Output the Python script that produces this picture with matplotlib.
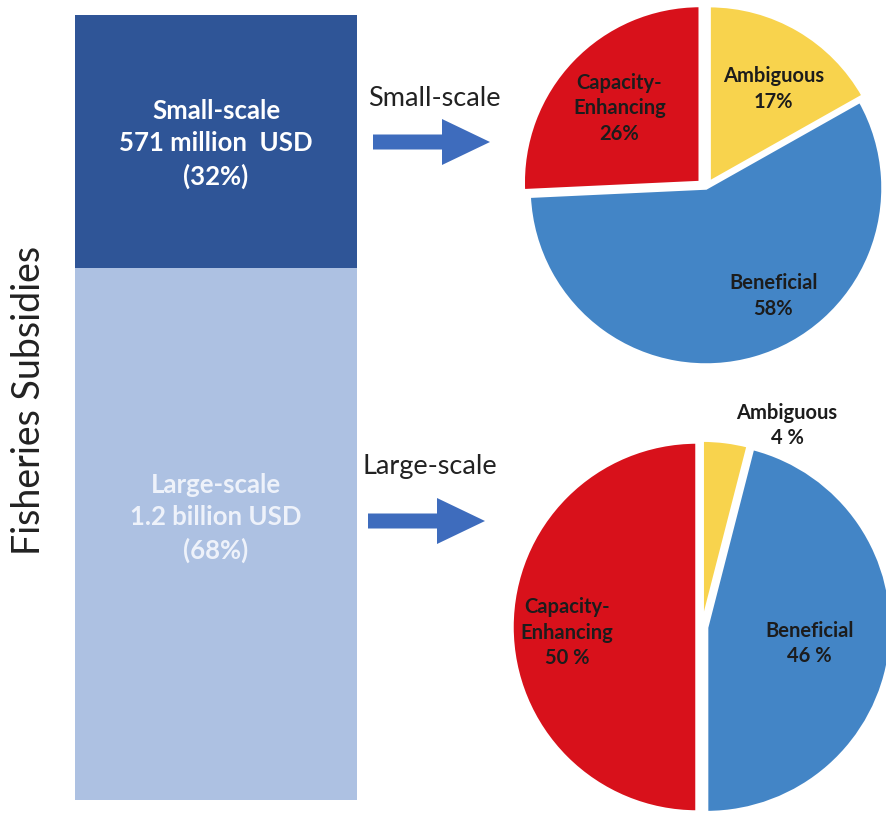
import matplotlib
matplotlib.use("Agg")
import matplotlib.pyplot as plt
from matplotlib.patches import FancyArrow

plt.rcParams['font.family'] = ['Lato', 'DejaVu Sans']

# subsidy totals (million USD)
scale_names = ['Small-scale', 'Large-scale']
scale_amounts = [571, 1200]
scale_text = ['571 million  USD', '1.2 billion USD']
scale_share = [32, 68]

# breakdown of each scale by subsidy type
pie_labels = ['Capacity-\nEnhancing', 'Beneficial', 'Ambiguous']
small_pct = [26, 58, 17]
large_pct = [50, 46, 4]

bar_colors = ['#2f5597', '#adc1e2']
bar_text_colors = ['white', '#eef2fa']
pie_colors = ['#d8111b', '#4385c6', '#f8d34d']
arrow_color = '#3e6cbd'

W, H = 887, 813
fig = plt.figure(figsize=(W / 100, H / 100), dpi=100)


def px_axes(x0, y0, x1, y1):
    # axes placed by pixel box (top-left origin)
    return fig.add_axes([x0 / W, 1 - y1 / H, (x1 - x0) / W, (y1 - y0) / H])


# stacked bar
axb = px_axes(75, 15, 357, 800)
total = sum(scale_amounts)
bottom = total
for name, amt, txt, sh, c, tc in zip(scale_names, scale_amounts, scale_text,
                                      scale_share, bar_colors, bar_text_colors):
    bottom -= amt
    axb.bar(0, amt, bottom=bottom, width=1, color=c, linewidth=0)
    ymid = bottom + amt * (0.49 if name == 'Small-scale' else 0.53)
    axb.text(0, ymid, f'{name}\n{txt}\n({sh}%)', ha='center', va='center',
             color=tc, fontsize=18.5, fontweight='bold', linespacing=1.4)
axb.set_xlim(-0.5, 0.5)
axb.set_ylim(0, total)
axb.axis('off')

# overlay in pixel coordinates for arrows and side text
ov = fig.add_axes([0, 0, 1, 1], zorder=-1)
ov.set_xlim(0, W)
ov.set_ylim(H, 0)
ov.axis('off')
ov.text(29, 400, 'Fisheries Subsidies', rotation=90, ha='center', va='center',
        fontsize=27, color='#222222')
ov.add_patch(FancyArrow(373, 142, 117, 0, width=15, head_width=46,
                        head_length=48, length_includes_head=True,
                        color=arrow_color, linewidth=0))
ov.add_patch(FancyArrow(368, 521, 117, 0, width=15, head_width=46,
                        head_length=48, length_includes_head=True,
                        color=arrow_color, linewidth=0))
ov.text(434, 98, 'Small-scale', ha='center', va='center', fontsize=19.5,
        color='#222222')
ov.text(430, 466, 'Large-scale', ha='center', va='center', fontsize=19.5,
        color='#222222')


def draw_pie(ax, pct, explode, label_pos, sep):
    wedges, _ = ax.pie(pct, colors=pie_colors, startangle=90, counterclock=True,
                       explode=explode, radius=1,
                       wedgeprops=dict(edgecolor='white', linewidth=2.5))
    for w in wedges:
        w.set_clip_on(False)
    for lab, v, (x, y) in zip(pie_labels, pct, label_pos):
        ax.text(x, y, f'{lab}\n{v}{sep}%', ha='center', va='center',
                fontsize=14.5, fontweight='bold', color='#1c1c1c',
                linespacing=1.35)
    ax.set_xlim(-1, 1)
    ax.set_ylim(-1, 1)
    ax.axis('off')


ax1 = px_axes(706 - 177, 188 - 177, 706 + 177, 188 + 177)
draw_pie(ax1, small_pct, [0.045, 0, 0.035],
         [(-0.49, 0.45), (0.38, -0.61), (0.38, 0.56)], '')

ax2 = px_axes(702 - 185, 627 - 185, 702 + 185, 627 + 185)
draw_pie(ax2, large_pct, [0.027, 0.025, 0.01],
         [(-0.73, -0.03), (0.58, -0.09), (0.46, 1.09)], ' ')

fig.savefig('out.png', dpi=100)
